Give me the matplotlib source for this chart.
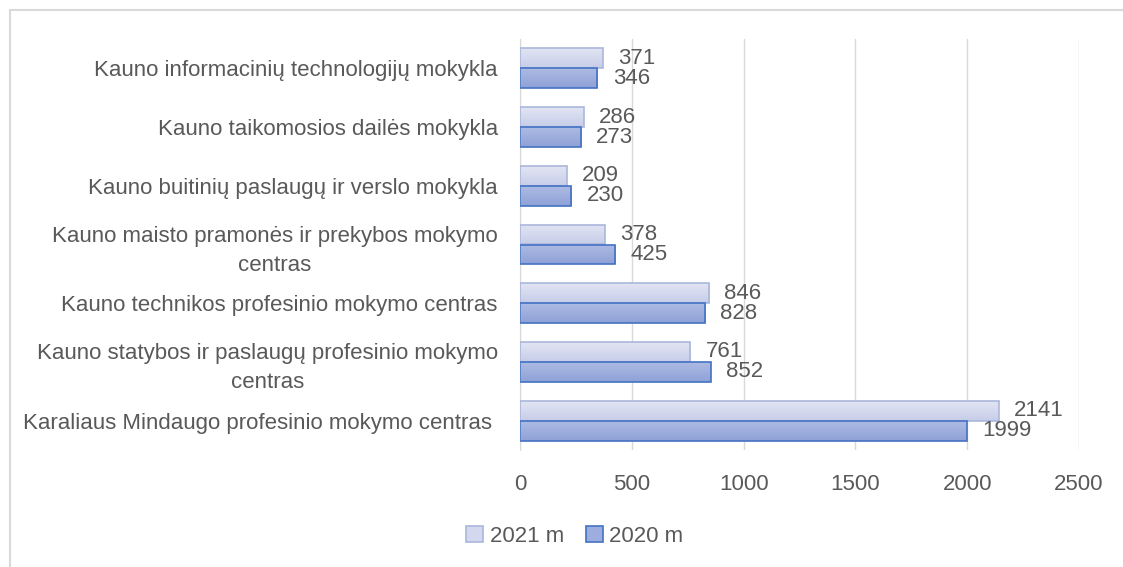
import matplotlib.pyplot as plt
import numpy as np
from matplotlib.colors import LinearSegmentedColormap
from matplotlib.lines import Line2D

plt.rcParams['font.family'] = ['Liberation Sans', 'DejaVu Sans']

schools = [
    "Kauno informacinių technologijų mokykla",
    "Kauno taikomosios dailės mokykla",
    "Kauno buitinių paslaugų ir verslo mokykla",
    "Kauno maisto pramonės ir prekybos mokymo\ncentras",
    "Kauno technikos profesinio mokymo centras",
    "Kauno statybos ir paslaugų profesinio mokymo\ncentras",
    "Karaliaus Mindaugo profesinio mokymo centras ",
]
y2021 = [371, 286, 209, 378, 846, 761, 2141]
y2020 = [346, 273, 230, 425, 828, 852, 1999]
ticks = [0, 500, 1000, 1500, 2000, 2500]

txt = "#595959"
fs = 16
fig = plt.figure(figsize=(11.23, 5.67), dpi=100)
ax = fig.add_axes([520 / 1123, 1 - 450 / 567, 559 / 1123, 411 / 567])

pos = np.arange(len(schools))
h = 0.34
b21 = ax.barh(pos - h / 2, y2021, height=h, color="none", edgecolor="#aab6dc", linewidth=1.2, zorder=3, label="2021 m")
b20 = ax.barh(pos + h / 2, y2020, height=h, color="none", edgecolor="#4472c4", linewidth=1.2, zorder=3, label="2020 m")

cm21 = LinearSegmentedColormap.from_list("c21", ["#e1e5f3", "#c6cde8"])
cm20 = LinearSegmentedColormap.from_list("c20", ["#adbbe3", "#8ea1d7"])
grad = np.linspace(0, 1, 64).reshape(-1, 1)
for bars, cm in ((b21, cm21), (b20, cm20)):
    for p in bars:
        x0, y0 = p.get_x(), p.get_y()
        im = ax.imshow(grad, cmap=cm, aspect="auto", zorder=2,
                       extent=(x0, x0 + p.get_width(), y0 + p.get_height(), y0))
        im.set_clip_path(p)

for bars, vals in ((b21, y2021), (b20, y2020)):
    for p, v in zip(bars, vals):
        ax.annotate(str(v), (p.get_width(), p.get_y() + p.get_height() / 2),
                    xytext=(11, 0), textcoords="offset points",
                    ha="left", va="center", color=txt, fontsize=fs)

ax.set_xlim(0, 2500)
ax.set_ylim(len(schools) - 0.5, -0.5)
ax.set_xticks(ticks)
ax.set_yticks(pos)
ax.set_yticklabels(schools)
for lbl in ax.get_yticklabels():
    lbl.set_multialignment("center")
    lbl.set_linespacing(1.5)
ax.tick_params(axis="both", length=0, labelsize=fs, labelcolor=txt)
ax.tick_params(axis="y", pad=16)
ax.tick_params(axis="x", pad=17)
ax.grid(axis="x", color="#d9d9d9", linewidth=1, zorder=0)
for s in ["top", "right", "bottom"]:
    ax.spines[s].set_visible(False)
ax.spines["left"].set_color("#d9d9d9")

ax.legend(handles=[b21, b20], loc="center", bbox_to_anchor=(0.512, 1 - 536 / 567),
          bbox_transform=fig.transFigure, ncol=2, frameon=False, fontsize=fs,
          labelcolor=txt, handlelength=0.75, handleheight=0.75, handletextpad=0.3,
          columnspacing=1.0)
leg = ax.get_legend()
leg.legend_handles[0].set_facecolor("#d3d8ee")
leg.legend_handles[1].set_facecolor("#9cadde")

# outer chart frame: only top and left edges are visible in the crop
fig.lines.append(Line2D([9.5 / 1123, 9.5 / 1123, 1], [0, 1 - 10 / 567, 1 - 10 / 567],
                        transform=fig.transFigure, color="#d9d9d9", linewidth=1.5))

fig.savefig("out.png", dpi=100)
